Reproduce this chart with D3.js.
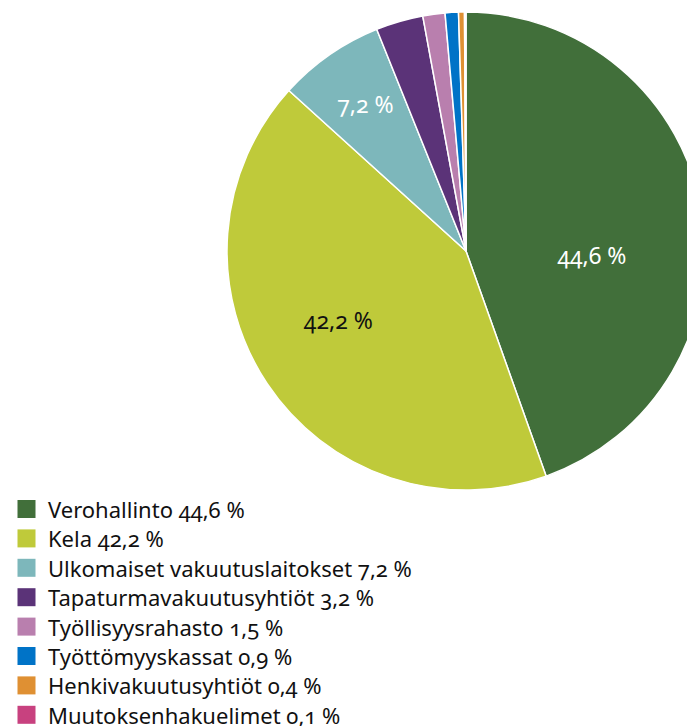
<!DOCTYPE html>
<html><head><meta charset="utf-8">
<script src="https://cdn.jsdelivr.net/npm/d3@7"></script>
<style>
html,body{margin:0;padding:0;background:#fff;overflow:hidden;}
svg text{font-family:"Noto Sans","Open Sans",sans-serif;font-variant-numeric:oldstyle-nums;font-feature-settings:"onum" 1;}
</style></head>
<body>
<svg id="chart" width="687" height="726"></svg>
<script>
const categories = ["Verohallinto","Kela","Ulkomaiset vakuutuslaitokset","Tapaturmavakuutusyhtiöt","Työllisyysrahasto","Työttömyyskassat","Henkivakuutusyhtiöt","Muutoksenhakuelimet"];
const values = [44.6,42.2,7.2,3.2,1.5,0.9,0.4,0.1];
const valueLabels = ["44,6 %","42,2 %","7,2 %","3,2 %","1,5 %","0,9 %","0,4 %","0,1 %"];
const colors = ["#416f3a","#bfca3a","#7db7bb","#5b3378","#b97fae","#0073c7","#df9033","#c8417f"];

const svg = d3.select("#chart");
const cx = 466, cy = 251, r = 239;
const g = svg.append("g").attr("transform",`translate(${cx},${cy})`);
const pie = d3.pie().sort(null).value(d=>d)(values);
const arc = d3.arc().innerRadius(0).outerRadius(r);
g.selectAll("path").data(pie).enter().append("path")
  .attr("d",arc).attr("fill",(d,i)=>colors[i])
  .attr("stroke","#fff").attr("stroke-width",1.5).attr("stroke-linejoin","round");

// in-slice labels for the three largest slices
const labelCfg = [{rf:0.527,da:0.20,fill:"#fff"},{rf:0.608,da:0.091,fill:"#111"},{rf:0.747,da:0.01,fill:"#fff"}];
labelCfg.forEach((c,i)=>{
  const d = pie[i];
  const a = (d.startAngle+d.endAngle)/2 + c.da;
  const rr = r*c.rf;
  g.append("text").attr("x",Math.sin(a)*rr).attr("y",-Math.cos(a)*rr)
   .attr("text-anchor","middle").attr("dominant-baseline","central")
   .attr("font-size",23).attr("fill",c.fill).text(valueLabels[i]);
});

// legend
const lg = svg.append("g");
categories.forEach((c,i)=>{
  const y = 509 + i*29.4;
  lg.append("rect").attr("x",17.5).attr("y",y-9).attr("width",18).attr("height",18).attr("fill",colors[i]);
  lg.append("text").attr("x",48).attr("y",y).attr("dominant-baseline","central")
    .attr("font-size",22).attr("fill","#111").text(c+" "+valueLabels[i]);
});
</script>
</body></html>
